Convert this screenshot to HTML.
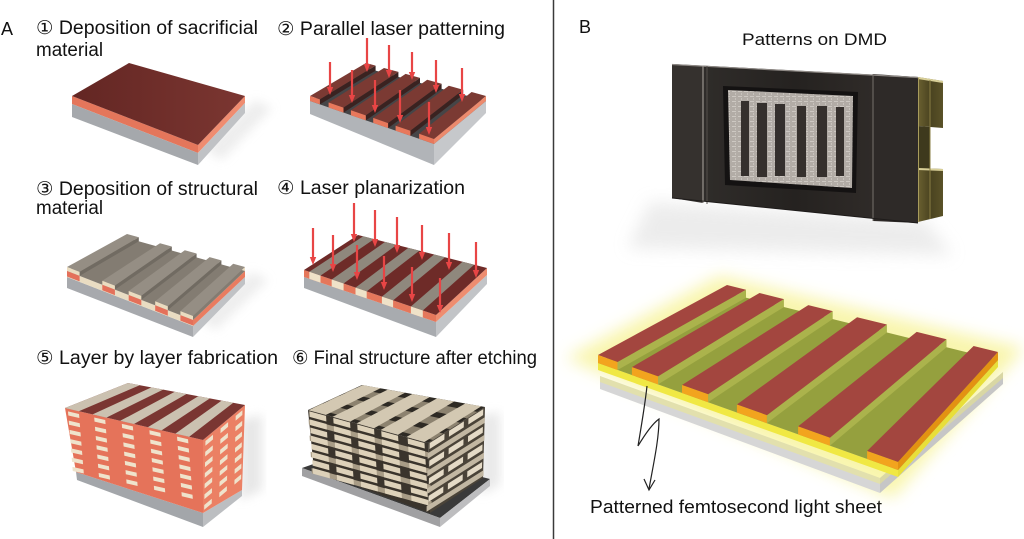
<!DOCTYPE html>
<html>
<head>
<meta charset="utf-8">
<style>
  html,body{margin:0;padding:0;background:#fff;}
  body{width:1024px;height:539px;overflow:hidden;}
  svg{display:block;}
  text{font-family:"Liberation Sans","DejaVu Sans","Noto Sans CJK JP",sans-serif;fill:#111;}
</style>
</head>
<body>
<svg width="1024" height="539" viewBox="0 0 1024 539" xmlns="http://www.w3.org/2000/svg">
<defs>
  <linearGradient id="brown1" x1="0" y1="0" x2="1" y2="0">
    <stop offset="0" stop-color="#632623"/>
    <stop offset="1" stop-color="#7b3631"/>
  </linearGradient>
  <linearGradient id="dmdbody" x1="0" y1="0" x2="1" y2="0">
    <stop offset="0" stop-color="#33302d"/>
    <stop offset="0.5" stop-color="#252220"/>
    <stop offset="1" stop-color="#35302d"/>
  </linearGradient>
  <linearGradient id="gold" x1="0" y1="0" x2="1" y2="0">
    <stop offset="0" stop-color="#6a6030"/>
    <stop offset="0.5" stop-color="#4a4320"/>
    <stop offset="1" stop-color="#5a5228"/>
  </linearGradient>
  <filter id="blur5" x="-20%" y="-20%" width="140%" height="140%"><feGaussianBlur stdDeviation="5"/></filter>
  <filter id="blur8" x="-30%" y="-30%" width="160%" height="160%"><feGaussianBlur stdDeviation="8"/></filter>
  <pattern id="dmdp" width="6" height="5" patternUnits="userSpaceOnUse">
    <rect width="6" height="5" fill="#b2aca6"/>
    <rect x="0" y="1" width="4" height="1" fill="#cdc8c2"/>
    <rect x="3" y="3" width="1" height="2" fill="#c7c2bc"/>
  </pattern>
</defs>

<rect width="1024" height="539" fill="#fff"/>

<!-- divider -->
<line x1="553.5" y1="0" x2="553.5" y2="539" stroke="#3a3a3a" stroke-width="1.5"/>

<!-- ================= TEXT ================= -->
<text x="1" y="35" font-size="18">A</text>
<text x="36" y="34" font-size="19" textLength="222" lengthAdjust="spacingAndGlyphs">① Deposition of sacrificial</text>
<text x="36" y="56" font-size="19" textLength="67" lengthAdjust="spacingAndGlyphs">material</text>
<text x="277" y="35" font-size="19" textLength="228" lengthAdjust="spacingAndGlyphs">② Parallel laser patterning</text>
<text x="36" y="195" font-size="19" textLength="222" lengthAdjust="spacingAndGlyphs">③ Deposition of structural</text>
<text x="36" y="214" font-size="19" textLength="67" lengthAdjust="spacingAndGlyphs">material</text>
<text x="277" y="194" font-size="19" textLength="188" lengthAdjust="spacingAndGlyphs">④ Laser planarization</text>
<text x="36" y="364" font-size="19" textLength="242" lengthAdjust="spacingAndGlyphs">⑤ Layer by layer fabrication</text>
<text x="292" y="364" font-size="19" textLength="245" lengthAdjust="spacingAndGlyphs">⑥ Final structure after etching</text>
<text x="579" y="33" font-size="18">B</text>
<text x="742" y="45" font-size="17" textLength="145" lengthAdjust="spacingAndGlyphs">Patterns on DMD</text>
<text x="590" y="513" font-size="18" textLength="292" lengthAdjust="spacingAndGlyphs">Patterned femtosecond light sheet</text>

<!-- ================= PANEL 1 ================= -->
<polygon points="205,150 255,100 272,108 222,160" fill="#e6e6e6" filter="url(#blur5)" opacity="0.7"/>
<polygon points="72,96 198,145 198,153 72,104" fill="#e4765b"/>
<polygon points="72,104 198,153 198,165 72,117" fill="#a5a8ac"/>
<polygon points="198,145 245,96 245,103 198,153" fill="#ef8c70"/>
<polygon points="198,153 245,103 245,113 198,165" fill="#c0c2c5"/>
<polygon points="72,96 129,63 245,96 198,145" fill="url(#brown1)"/>

<!-- ================= PANEL 2 ================= -->
<polygon points="310,101 434,144 434,165 310,114" fill="#b1b4b8"/>
<polygon points="434,144 486,101 486,113 434,165" fill="#c6c8cb"/>
<polygon points="310,101 366,68 486,101 434,144" fill="#454547"/>
<g fill="#7b3a33">
  <polygon points="310,96 319.9,99.4 375.6,65.6 366,63"/>
  <polygon points="328.6,102.5 343.5,107.6 398.4,71.9 384,68"/>
  <polygon points="350.9,110.2 365.8,115.4 420,77.9 405.6,73.9"/>
  <polygon points="373.2,117.9 388.1,123.1 441.6,83.8 427.2,79.8"/>
  <polygon points="395.6,125.7 410.4,130.8 463.2,89.7 448.8,85.8"/>
  <polygon points="419.1,133.8 434,139 486,96 471.6,92"/>
</g>
<g fill="#3a2220">
  <polygon points="319.9,99.4 375.6,65.6 375.6,70.6 319.9,104.4"/>
  <polygon points="343.5,107.6 398.4,71.9 398.4,76.9 343.5,112.6"/>
  <polygon points="365.8,115.4 420,77.9 420,82.9 365.8,120.4"/>
  <polygon points="388.1,123.1 441.6,83.8 441.6,88.8 388.1,128.1"/>
  <polygon points="410.4,130.8 463.2,89.7 463.2,94.7 410.4,135.8"/>
</g>
<polygon points="434,139 486,96 486,101 434,144" fill="#ec8a6d"/>
<g fill="#e8785c">
  <polygon points="310,96 319.9,99.4 319.9,104.4 310,101"/>
  <polygon points="328.6,102.5 343.5,107.6 343.5,112.6 328.6,107.5"/>
  <polygon points="350.9,110.2 365.8,115.4 365.8,120.4 350.9,115.2"/>
  <polygon points="373.2,117.9 388.1,123.1 388.1,128.1 373.2,122.9"/>
  <polygon points="395.6,125.7 410.4,130.8 410.4,135.8 395.6,130.7"/>
  <polygon points="419.1,133.8 434,139 434,144 419.1,138.8"/>
</g>
<!-- arrows panel 2 -->
<g stroke="#e84545" stroke-width="2.2">
  <line x1="330" y1="62" x2="330" y2="89"/>
  <line x1="367" y1="38" x2="367" y2="66"/>
  <line x1="352" y1="70" x2="352" y2="97"/>
  <line x1="389" y1="45" x2="389" y2="72"/>
  <line x1="412" y1="52" x2="412" y2="74"/>
  <line x1="375" y1="80" x2="375" y2="107"/>
  <line x1="436" y1="60" x2="436" y2="87"/>
  <line x1="400" y1="90" x2="400" y2="117"/>
  <line x1="462" y1="68" x2="462" y2="96"/>
  <line x1="429" y1="102" x2="429" y2="129"/>
</g>
<g fill="#e84545">
  <polygon points="326.8,87 333.2,87 330,95"/>
  <polygon points="363.8,64 370.2,64 367,72"/>
  <polygon points="348.8,95 355.2,95 352,103"/>
  <polygon points="385.8,70 392.2,70 389,78"/>
  <polygon points="408.8,72 415.2,72 412,80"/>
  <polygon points="371.8,105 378.2,105 375,113"/>
  <polygon points="432.8,85 439.2,85 436,93"/>
  <polygon points="396.8,115 403.2,115 400,123"/>
  <polygon points="458.8,94 465.2,94 462,102"/>
  <polygon points="425.8,127 432.2,127 429,135"/>
</g>

<!-- ================= PANEL 3 ================= -->
<polygon points="200,320 252,272 268,280 216,330" fill="#e6e6e6" filter="url(#blur5)" opacity="0.7"/>
<polygon points="67,277 193,326 193,337 67,288" fill="#a7a9ad"/>
<polygon points="193,326 245,277 245,284 193,337" fill="#c0c2c5"/>
<polygon points="67,271 193,320 193,326 67,277" fill="#e9dcc2"/>
<polygon points="193,316 245,267 245,271 193,320" fill="#ecdfc5"/>
<polygon points="193,320 245,271 245,277 193,326" fill="#e97c60"/>
<polygon points="67,271 127,238 245,271 193,320" fill="#837c72"/>
<g fill="#958e84">
  <polygon points="67,267 79.6,271.9 138.8,237.3 127,234"/>
  <polygon points="102.3,280.7 114.9,285.6 171.8,246.5 160,243.2"/>
  <polygon points="128.7,291 141.3,295.9 196.6,253.5 184.8,250.2"/>
  <polygon points="155.2,301.3 167.8,306.2 221.4,260.4 209.6,257.1"/>
  <polygon points="180.4,311.1 193,316 245,267 233.2,263.7"/>
</g>
<g fill="#716b62">
  <polygon points="79.6,271.9 138.8,237.3 138.8,241.3 79.6,275.9"/>
  <polygon points="114.9,285.6 171.8,246.5 171.8,250.5 114.9,289.6"/>
  <polygon points="141.3,295.9 196.6,253.5 196.6,257.5 141.3,299.9"/>
  <polygon points="167.8,306.2 221.4,260.4 221.4,264.4 167.8,310.2"/>
</g>
<g fill="#eadcc0">
  <polygon points="67,267 79.6,271.9 79.6,275.9 67,271"/>
  <polygon points="102.3,280.7 114.9,285.6 114.9,289.6 102.3,284.7"/>
  <polygon points="128.7,291 141.3,295.9 141.3,299.9 128.7,295"/>
  <polygon points="155.2,301.3 167.8,306.2 167.8,310.2 155.2,305.3"/>
  <polygon points="180.4,311.1 193,316 193,320 180.4,315.1"/>
</g>
<g fill="#e4705a">
  <polygon points="67,271 79.6,275.9 79.6,281.4 67,276.5"/>
  <polygon points="102.3,284.7 114.9,289.6 114.9,295.1 102.3,290.2"/>
  <polygon points="128.7,295 141.3,299.9 141.3,305.4 128.7,300.5"/>
  <polygon points="155.2,305.3 167.8,310.2 167.8,315.7 155.2,310.8"/>
  <polygon points="180.4,315.1 193,320 193,325.5 180.4,320.6"/>
</g>

<!-- ================= PANEL 4 ================= -->
<polygon points="304,277 436,322 436,337 304,288" fill="#a8abaf"/>
<polygon points="436,322 487,275 487,284 436,337" fill="#c2c4c7"/>
<polygon points="304,270 436,315 436,322 304,277" fill="#e5775b"/>
<polygon points="436,315 487,268 487,275 436,322" fill="#ee8d70"/>
<polygon points="304,270 358,235 487,268 436,315" fill="#6e2b28"/>
<g fill="#8f887d">
  <polygon points="309.3,271.8 320.5,275.6 374.1,239.1 363.2,236.3"/>
  <polygon points="331.7,279.5 343.6,283.5 396.7,244.9 385.1,241.9"/>
  <polygon points="355.5,287.6 366.7,291.4 419.3,250.7 408.3,247.9"/>
  <polygon points="381.9,296.6 393.1,300.4 445.1,257.3 434.1,254.5"/>
  <polygon points="410.9,306.5 422.8,310.5 474.1,264.7 462.5,261.7"/>
</g>
<g fill="#efe2c8">
  <polygon points="309.3,271.8 320.5,275.6 320.5,282.6 309.3,278.8"/>
  <polygon points="331.7,279.5 343.6,283.5 343.6,290.5 331.7,286.5"/>
  <polygon points="355.5,287.6 366.7,291.4 366.7,298.4 355.5,294.6"/>
  <polygon points="381.9,296.6 393.1,300.4 393.1,307.4 381.9,303.6"/>
  <polygon points="410.9,306.5 422.8,310.5 422.8,317.5 410.9,313.5"/>
</g>
<!-- arrows panel 4 -->
<g stroke="#e84545" stroke-width="2.2">
  <line x1="313" y1="228" x2="313" y2="259"/>
  <line x1="333" y1="235" x2="333" y2="266"/>
  <line x1="354" y1="203" x2="354" y2="236"/>
  <line x1="357" y1="245" x2="357" y2="274"/>
  <line x1="375" y1="210" x2="375" y2="241"/>
  <line x1="397" y1="217" x2="397" y2="247"/>
  <line x1="384" y1="256" x2="384" y2="284"/>
  <line x1="422" y1="225" x2="422" y2="254"/>
  <line x1="412" y1="267" x2="412" y2="296"/>
  <line x1="449" y1="233" x2="449" y2="264"/>
  <line x1="476" y1="242" x2="476" y2="272"/>
  <line x1="440" y1="278" x2="440" y2="307"/>
</g>
<g fill="#e84545">
  <polygon points="309.8,257 316.2,257 313,265"/>
  <polygon points="329.8,264 336.2,264 333,272"/>
  <polygon points="350.8,234 357.2,234 354,242"/>
  <polygon points="353.8,272 360.2,272 357,280"/>
  <polygon points="371.8,239 378.2,239 375,247"/>
  <polygon points="393.8,245 400.2,245 397,253"/>
  <polygon points="380.8,282 387.2,282 384,290"/>
  <polygon points="418.8,252 425.2,252 422,260"/>
  <polygon points="408.8,294 415.2,294 412,302"/>
  <polygon points="445.8,262 452.2,262 449,270"/>
  <polygon points="472.8,270 479.2,270 476,278"/>
  <polygon points="436.8,305 443.2,305 440,313"/>
</g>

<!-- ================= PANEL 5 ================= -->
<polygon points="240,420 262,415 262,490 240,500" fill="#e2e2e2" filter="url(#blur5)" opacity="0.8"/>
<polygon points="76,472 203,513 203,527 77,480" fill="#a3a6aa"/>
<polygon points="203,513 242,490 242,496 203,527" fill="#bcbec1"/>
<polygon points="65,408 203,440 203,513 76,472" fill="#e5735a"/>
<polygon points="203,440 245,405 242,490 203,513" fill="#eb8064"/>
<g transform="matrix(1.38,0.32,0.055,0.685,65,408)" fill="#efe3cc">
  <rect x="2" y="4" width="8" height="6"/><rect x="21" y="4" width="8" height="6"/><rect x="41" y="4" width="8" height="6"/><rect x="61" y="4" width="8" height="6"/><rect x="81" y="4" width="8" height="6"/>
  <rect x="2" y="17.5" width="8" height="6"/><rect x="21" y="17.5" width="8" height="6"/><rect x="41" y="17.5" width="8" height="6"/><rect x="61" y="17.5" width="8" height="6"/><rect x="81" y="17.5" width="8" height="6"/>
  <rect x="2" y="31" width="8" height="6"/><rect x="21" y="31" width="8" height="6"/><rect x="41" y="31" width="8" height="6"/><rect x="61" y="31" width="8" height="6"/><rect x="81" y="31" width="8" height="6"/>
  <rect x="2" y="44.5" width="8" height="6"/><rect x="21" y="44.5" width="8" height="6"/><rect x="41" y="44.5" width="8" height="6"/><rect x="61" y="44.5" width="8" height="6"/><rect x="81" y="44.5" width="8" height="6"/>
  <rect x="2" y="58" width="8" height="6"/><rect x="21" y="58" width="8" height="6"/><rect x="41" y="58" width="8" height="6"/><rect x="61" y="58" width="8" height="6"/><rect x="81" y="58" width="8" height="6"/>
  <rect x="2" y="71.5" width="8" height="6"/><rect x="21" y="71.5" width="8" height="6"/><rect x="41" y="71.5" width="8" height="6"/><rect x="61" y="71.5" width="8" height="6"/><rect x="81" y="71.5" width="8" height="6"/>
  <rect x="2" y="85" width="8" height="6"/><rect x="21" y="85" width="8" height="6"/><rect x="41" y="85" width="8" height="6"/><rect x="61" y="85" width="8" height="6"/><rect x="81" y="85" width="8" height="6"/>
</g>
<g transform="matrix(0.42,-0.35,-0.015,0.79,203,440)" fill="#efe3cc">
  <rect x="6" y="4" width="18" height="6"/><rect x="42" y="4" width="18" height="6"/><rect x="78" y="4" width="16" height="6"/>
  <rect x="6" y="17.5" width="18" height="6"/><rect x="42" y="17.5" width="18" height="6"/><rect x="78" y="17.5" width="16" height="6"/>
  <rect x="6" y="31" width="18" height="6"/><rect x="42" y="31" width="18" height="6"/><rect x="78" y="31" width="16" height="6"/>
  <rect x="6" y="44.5" width="18" height="6"/><rect x="42" y="44.5" width="18" height="6"/><rect x="78" y="44.5" width="16" height="6"/>
  <rect x="6" y="58" width="18" height="6"/><rect x="42" y="58" width="18" height="6"/><rect x="78" y="58" width="16" height="6"/>
  <rect x="6" y="71.5" width="18" height="6"/><rect x="42" y="71.5" width="18" height="6"/><rect x="78" y="71.5" width="16" height="6"/>
  <rect x="6" y="85" width="18" height="6"/><rect x="42" y="85" width="18" height="6"/><rect x="78" y="85" width="16" height="6"/>
</g>
<polygon points="65,408 128,383 245,405 203,440" fill="#7a3632"/>
<g fill="#cbc1b0">
  <polygon points="65,408 78.8,411.2 139.7,385.2 128,383"/>
  <polygon points="92.6,414.4 106.4,417.6 163.1,389.6 151.4,387.4"/>
  <polygon points="120.2,420.8 134,424 186.5,394 174.8,391.8"/>
  <polygon points="147.8,427.2 161.6,430.4 209.9,398.4 198.2,396.2"/>
  <polygon points="175.4,433.6 189.2,436.8 233.3,402.8 221.6,400.6"/>
</g>

<!-- ================= PANEL 6 ================= -->
<polygon points="480,415 500,412 500,485 480,495" fill="#e4e4e4" filter="url(#blur5)" opacity="0.8"/>
<polygon points="302,468 362,447 490,479 440,518" fill="#3a3a3a"/>
<polygon points="302,468 440,518 440,527 302,476" fill="#a0a0a2"/>
<polygon points="440,518 490,479 490,486 440,527" fill="#bdbdbf"/>
<polygon points="308,410 428,443 430,513 314,470" fill="#3a342c"/>
<polygon points="428,443 485,407 483,478 430,513" fill="#4a4338"/>
<g transform="matrix(1.2,0.33,0.04,0.65,308,410)">
  <g fill="#a89c86">
    <rect x="0" y="14.5" width="100" height="8"/>
    <rect x="0" y="39.5" width="100" height="8"/>
    <rect x="0" y="64.5" width="100" height="8"/>
    <rect x="0" y="89.5" width="100" height="8"/>
  </g>
  <g fill="#ddd1b9">
    <rect x="1" y="1.5" width="14" height="8.5"/><rect x="21" y="1.5" width="14" height="8.5"/><rect x="41" y="1.5" width="14" height="8.5"/><rect x="61" y="1.5" width="14" height="8.5"/><rect x="83" y="1.5" width="14" height="8.5"/>
    <rect x="1" y="14" width="14" height="8.5"/><rect x="21" y="14" width="14" height="8.5"/><rect x="41" y="14" width="14" height="8.5"/><rect x="61" y="14" width="14" height="8.5"/><rect x="83" y="14" width="14" height="8.5"/>
    <rect x="1" y="26.5" width="14" height="8.5"/><rect x="21" y="26.5" width="14" height="8.5"/><rect x="41" y="26.5" width="14" height="8.5"/><rect x="61" y="26.5" width="14" height="8.5"/><rect x="83" y="26.5" width="14" height="8.5"/>
    <rect x="1" y="39" width="14" height="8.5"/><rect x="21" y="39" width="14" height="8.5"/><rect x="41" y="39" width="14" height="8.5"/><rect x="61" y="39" width="14" height="8.5"/><rect x="83" y="39" width="14" height="8.5"/>
    <rect x="1" y="51.5" width="14" height="8.5"/><rect x="21" y="51.5" width="14" height="8.5"/><rect x="41" y="51.5" width="14" height="8.5"/><rect x="61" y="51.5" width="14" height="8.5"/><rect x="83" y="51.5" width="14" height="8.5"/>
    <rect x="1" y="64" width="14" height="8.5"/><rect x="21" y="64" width="14" height="8.5"/><rect x="41" y="64" width="14" height="8.5"/><rect x="61" y="64" width="14" height="8.5"/><rect x="83" y="64" width="14" height="8.5"/>
    <rect x="1" y="76.5" width="14" height="8.5"/><rect x="21" y="76.5" width="14" height="8.5"/><rect x="41" y="76.5" width="14" height="8.5"/><rect x="61" y="76.5" width="14" height="8.5"/><rect x="83" y="76.5" width="14" height="8.5"/>
    <rect x="1" y="89" width="14" height="8.5"/><rect x="21" y="89" width="14" height="8.5"/><rect x="41" y="89" width="14" height="8.5"/><rect x="61" y="89" width="14" height="8.5"/><rect x="83" y="89" width="14" height="8.5"/>
  </g>
</g>
<g transform="matrix(0.57,-0.36,-0.015,0.705,428,443)">
  <g fill="#c2b7a2">
    <rect x="0" y="14.5" width="100" height="8"/>
    <rect x="0" y="39.5" width="100" height="8"/>
    <rect x="0" y="64.5" width="100" height="8"/>
    <rect x="0" y="89.5" width="100" height="8"/>
  </g>
  <g fill="#e4dac6">
    <rect x="3" y="1.5" width="26" height="8.5"/><rect x="37" y="1.5" width="26" height="8.5"/><rect x="71" y="1.5" width="26" height="8.5"/>
    <rect x="3" y="26.5" width="26" height="8.5"/><rect x="37" y="26.5" width="26" height="8.5"/><rect x="71" y="26.5" width="26" height="8.5"/>
    <rect x="3" y="51.5" width="26" height="8.5"/><rect x="37" y="51.5" width="26" height="8.5"/><rect x="71" y="51.5" width="26" height="8.5"/>
    <rect x="3" y="76.5" width="26" height="8.5"/><rect x="37" y="76.5" width="26" height="8.5"/><rect x="71" y="76.5" width="26" height="8.5"/>
  </g>
</g>
<polygon points="308,410 362,385 485,407 428,443" fill="#2e2a24"/>
<g fill="#8c826f">
  <polygon points="312.6,408 322.3,403.4 443.1,433.5 432.9,440"/>
  <polygon points="328.8,400.4 338.5,395.9 460.2,422.7 450,429.2"/>
  <polygon points="345,392.9 354.7,388.4 477.3,411.9 467.1,418.4"/>
</g>
<g fill="#d3c8b2">
  <polygon points="308.6,410.2 325.9,414.9 380.5,388.3 362.7,385.1"/>
  <polygon points="332.6,416.8 350,421.6 405,392.7 387.8,389.6"/>
  <polygon points="356.6,423.4 374,428.2 429.6,397.1 412.4,394"/>
  <polygon points="380.6,430 398,434.8 454.2,401.5 437,398.4"/>
  <polygon points="406.4,437 424.4,442 481.3,406.3 465.3,403.5"/>
</g>

<!-- ================= DMD ================= -->
<polygon points="650,202 925,220 952,255 628,248" fill="#e0e0e0" filter="url(#blur8)" opacity="0.6"/>
<polygon points="672,64 918,77 918,223 672,198" fill="url(#dmdbody)"/>
<polygon points="672,64 703,66 703,203 672,198" fill="#35312e"/>
<polygon points="873,74 918,77 918,223 873,221" fill="#2e2a28"/>
<line x1="672" y1="64.5" x2="918" y2="77.5" stroke="#8d8884" stroke-width="1.2"/>
<line x1="703" y1="66" x2="703" y2="203" stroke="#9a948f" stroke-width="1.2"/>
<line x1="707" y1="66" x2="707" y2="204" stroke="#55504c" stroke-width="1"/>
<line x1="873" y1="74" x2="873" y2="221" stroke="#77726d" stroke-width="1"/>
<line x1="672" y1="198" x2="918" y2="223" stroke="#1e1b1a" stroke-width="1"/>
<polygon points="723,86 858,92 856,193 725,185" fill="#141212"/>
<polygon points="728,90 853,96 852,188 730,180" fill="url(#dmdp)"/>
<g fill="#35302d">
  <rect x="741" y="101" width="8" height="75"/>
  <rect x="757" y="103" width="10" height="74"/>
  <rect x="775" y="104" width="10" height="72"/>
  <rect x="797" y="106" width="9" height="71"/>
  <rect x="817" y="106" width="10" height="71"/>
  <rect x="836" y="107" width="8" height="69"/>
</g>
<polygon points="918,77 943,81 943,128 918,126" fill="url(#gold)"/>
<polygon points="918,126 930,127 930,170 918,170" fill="#3e391d"/>
<polygon points="918,168 943,169 943,216 918,222" fill="url(#gold)"/>
<line x1="918" y1="78" x2="943" y2="82" stroke="#d8cf98" stroke-width="2"/>
<line x1="918" y1="169" x2="943" y2="170" stroke="#d8cf98" stroke-width="2"/>
<line x1="918.5" y1="78" x2="918.5" y2="222" stroke="#a89c5c" stroke-width="1"/>
<line x1="930" y1="80" x2="930" y2="219" stroke="#8a7f45" stroke-width="1"/>

<!-- ================= LIGHT SHEET ================= -->
<polygon points="566,358 720,276 1024,348 893,498" fill="#f8f4a4" filter="url(#blur8)" opacity="0.9"/>
<polygon points="600,376 880,478 880,493 600,389" fill="#d6d6d6"/>
<polygon points="880,478 1003,372 1003,384 880,493" fill="#c6c6c6"/>
<polygon points="600,376 880,478 1003,372 1003,378 880,484 600,382" fill="#f4ef70" opacity="0.4"/>
<polygon points="598,363 898,470 898,477 598,370" fill="#f0e843"/>
<polygon points="898,470 998,360 998,367 898,477" fill="#e8df3a"/>
<polygon points="598,363 727,293 998,360 898,470" fill="#95a03e"/>
<g fill="#abb34c">
  <polygon points="617.5,362 746,289.7 746,297.7 617.5,370"/>
  <polygon points="658,376.4 783.9,299.1 783.9,307.1 658,384.4"/>
  <polygon points="708.1,394.3 832.7,311.1 832.7,319.1 708.1,402.3"/>
  <polygon points="766.9,415.2 886.9,324.5 886.9,332.5 766.9,423.2"/>
  <polygon points="829.9,437.7 946.5,339.3 946.5,347.3 829.9,445.7"/>
</g>
<g fill="#a3463f">
  <polygon points="598,355 617.5,362 746,289.7 727,285"/>
  <polygon points="631.9,367.1 658,376.4 783.9,299.1 759.5,293"/>
  <polygon points="682,385 708.1,394.3 832.7,311.1 808.3,305.1"/>
  <polygon points="736.9,404.5 766.9,415.2 886.9,324.5 857.1,317.2"/>
  <polygon points="798.1,426.4 829.9,437.7 946.5,339.3 916.7,331.9"/>
  <polygon points="867.1,451 898,462 998,352 973.6,346"/>
</g>
<polygon points="898,462 998,352 998,360 898,470" fill="#e39212"/>
<g fill="#f2a41e">
  <polygon points="598,355 617.5,362 617.5,370 598,363"/>
  <polygon points="631.9,367.1 658,376.4 658,384.4 631.9,375.1"/>
  <polygon points="682,385 708.1,394.3 708.1,402.3 682,393"/>
  <polygon points="736.9,404.5 766.9,415.2 766.9,423.2 736.9,412.5"/>
  <polygon points="798.1,426.4 829.9,437.7 829.9,445.7 798.1,434.4"/>
  <polygon points="867.1,451 898,462 898,470 867.1,459"/>
</g>

<!-- wavy arrow -->
<path d="M647,386 C645,405 641,428 638,446 C644,436 652,424 659,419 C659,440 653,466 649,489" fill="none" stroke="#222" stroke-width="1.2"/>
<path d="M644,479 L649,490 L655,480" fill="none" stroke="#222" stroke-width="1.2"/>
</svg>
</body>
</html>
